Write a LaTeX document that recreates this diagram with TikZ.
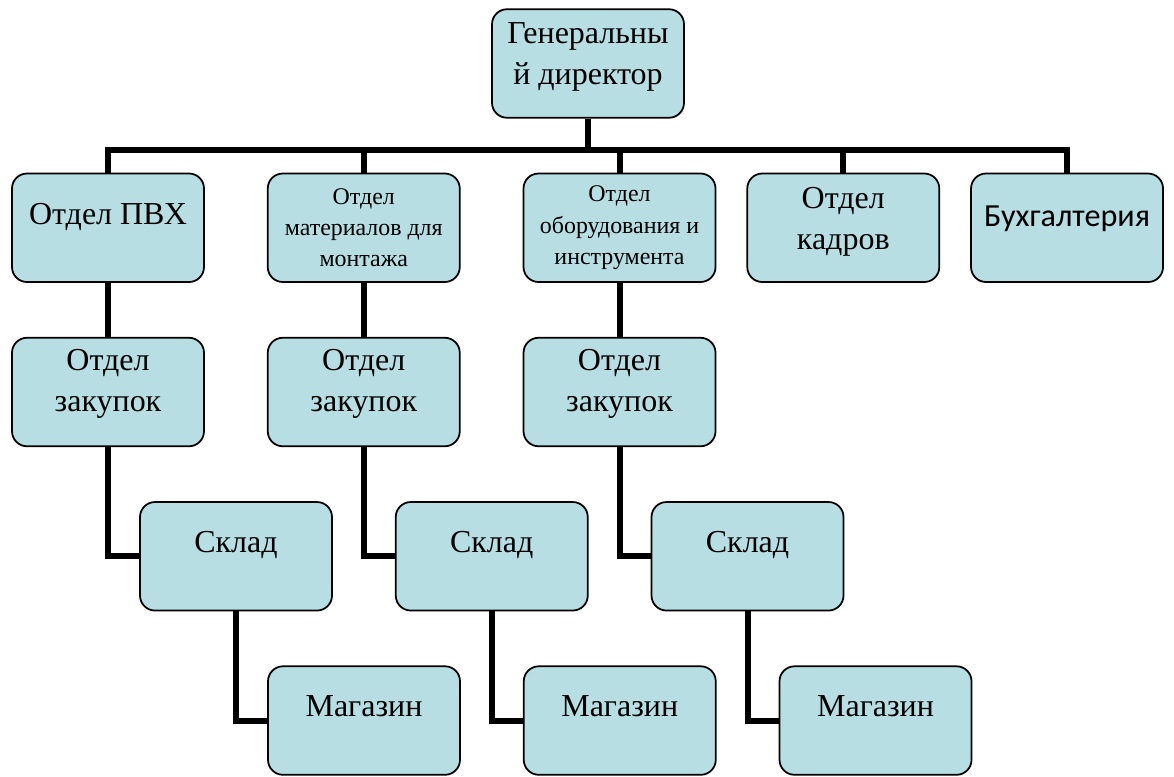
\documentclass[tikz,border=0pt]{standalone}
\usepackage{fontspec}
\setmainfont{Liberation Serif}
\newfontfamily\calibfont{Carlito}
\usepackage{tikz}
\usetikzlibrary{positioning}
\usepackage{xcolor}
\definecolor{boxfill}{RGB}{183,222,226}
\newcommand{\lift}[1]{\rule[-#1]{0pt}{#1}}

\begin{document}
\begin{tikzpicture}[node distance=1.08cm, every node/.style={font=\fontsize{18.2}{23.5}\selectfont}]
\tikzstyle{box}=[draw, line width=1pt, fill=boxfill, rounded corners=0.3cm, minimum width=3.84cm, minimum height=2.17cm, align=center, inner sep=0pt]
\tikzstyle{small}=[font=\fontsize{13.6}{17.8}\selectfont]
\tikzstyle{conn}=[line width=0.12cm]
\useasboundingbox (0,0) rectangle (23.48,-15.52);
\node[box] (gen) at (11.76,-1.27) {Генеральны\\й директор\lift{11pt}};
\node[box, below=of gen, xshift=-9.6cm] (pvh) {Отдел ПВХ\lift{16pt}};
\node[box, small, right=1.24cm of pvh] (mont) {Отдел\\материалов для\\монтажа};
\node[box, small, right=1.24cm of mont] (obor) {Отдел\\оборудования и\\инструмента};
\node[box, right=0.6cm of obor] (kadr) {Отдел\\кадров\lift{11pt}};
\node[box, right=0.6cm of kadr, font=\calibfont\fontsize{18.3}{23}\selectfont] (buh) {Бухгалтерия\lift{13.6pt}};
\node[box, below=of pvh] (zak1) {Отдел\\закупок\lift{13pt}};
\node[box, below=of mont] (zak2) {Отдел\\закупок\lift{13pt}};
\node[box, below=of obor] (zak3) {Отдел\\закупок\lift{13pt}};
\node[box, below=of zak1, xshift=2.56cm] (skl1) {Склад\lift{16pt}};
\node[box, below=of zak2, xshift=2.56cm] (skl2) {Склад\lift{16pt}};
\node[box, below=of zak3, xshift=2.56cm] (skl3) {Склад\lift{16pt}};
\node[box, below=of skl1, xshift=2.56cm] (mag1) {Магазин\lift{16pt}};
\node[box, below=of skl2, xshift=2.56cm] (mag2) {Магазин\lift{16pt}};
\node[box, below=of skl3, xshift=2.56cm] (mag3) {Магазин\lift{16pt}};
\coordinate[below=0.62cm of gen] (bus);
\draw[conn] (gen.south) -- (bus) -| (pvh.north);
\draw[conn] (bus) -| (mont.north);
\draw[conn] (bus) -| (obor.north);
\draw[conn] (bus) -| (kadr.north);
\draw[conn] (bus) -| (buh.north);
\draw[conn] (pvh) -- (zak1);
\draw[conn] (mont) -- (zak2);
\draw[conn] (obor) -- (zak3);
\draw[conn] (zak1.south) |- (skl1.west);
\draw[conn] (zak2.south) |- (skl2.west);
\draw[conn] (zak3.south) |- (skl3.west);
\draw[conn] (skl1.south) |- (mag1.west);
\draw[conn] (skl2.south) |- (mag2.west);
\draw[conn] (skl3.south) |- (mag3.west);
\end{tikzpicture}
\end{document}
